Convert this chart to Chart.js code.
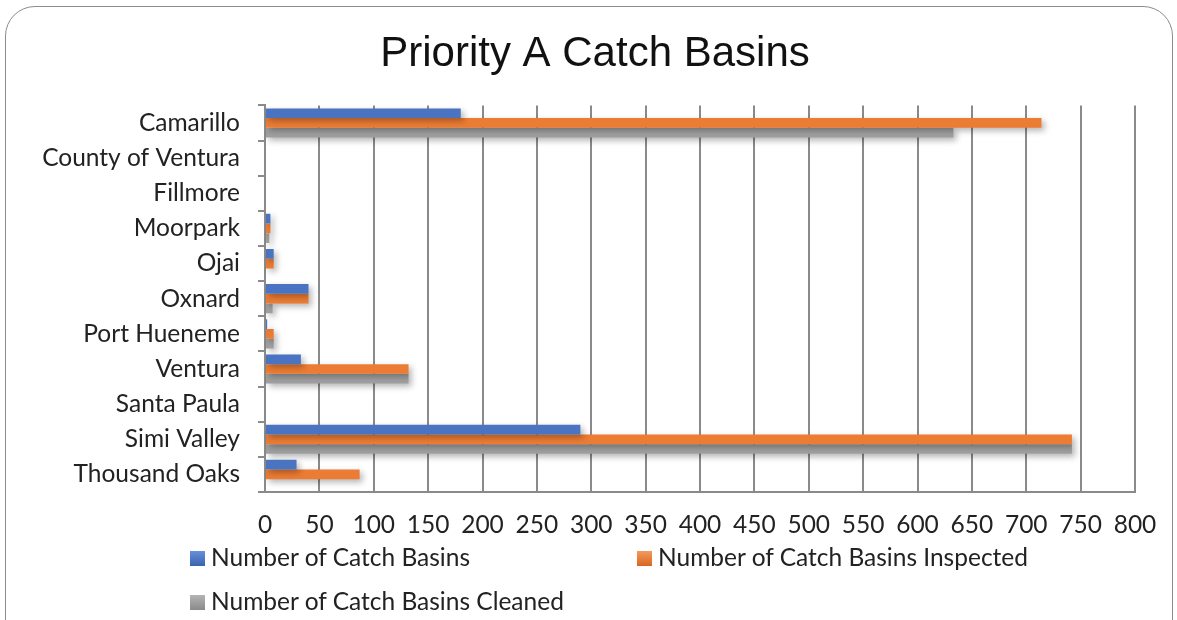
<!DOCTYPE html>
<html>
<head>
<meta charset="utf-8">
<script src="https://cdn.jsdelivr.net/npm/chart.js@4.4.1/dist/chart.umd.min.js"></script>
<style>
  html, body { margin: 0; padding: 0; background: #fff; overflow: hidden; }
  #wrap { position: relative; width: 1177px; height: 620px; }
  #frame {
    position: absolute; left: 5px; top: 6px; width: 1168px; height: 660px;
    border: 1.5px solid #8c8c8c; border-radius: 30px; box-sizing: border-box;
  }
  #chart { position: absolute; left: 0; top: 0; }
  .legend-item {
    position: absolute; font-family: Lato, "Open Sans", sans-serif; font-size: 24.5px;
    color: #222; white-space: nowrap; line-height: 28px;
  }
  .legend-item span.box {
    display: inline-block; width: 15px; height: 15px; margin-right: 6px; vertical-align: 0px;
  }
</style>
</head>
<body>
<div id="wrap">
  <div id="frame"></div>
  <canvas id="chart" width="1177" height="620"></canvas>
  <div id="legend"></div>
</div>
<script>
// chart data
const cities = ['Camarillo', 'County of Ventura', 'Fillmore', 'Moorpark', 'Ojai', 'Oxnard',
  'Port Hueneme', 'Ventura', 'Santa Paula', 'Simi Valley', 'Thousand Oaks'];
const basins    = [180, 0, 0, 5, 8, 40, 2, 33, 0, 290, 29];
const inspected = [714, 0, 0, 5, 8, 40, 8, 132, 0, 742, 87];
const cleaned   = [633, 0, 0, 4, 0, 7, 8, 132, 0, 742, 0];
const seriesNames = ['Number of Catch Basins', 'Number of Catch Basins Inspected', 'Number of Catch Basins Cleaned'];
const xTicks = [0, 50, 100, 150, 200, 250, 300, 350, 400, 450, 500, 550, 600, 650, 700, 750, 800];

const palette = [
  ['#6690da', '#4a74c2', '#3b62ad'],
  ['#f39a5f', '#ec7c33', '#d9661f'],
  ['#b4b4b4', '#a0a0a0', '#8a8a8a']
];

function barFill(idx) {
  return (ctx) => {
    const el = ctx.element;
    const c = ctx.chart.ctx;
    if (!el || el.y === undefined || !el.height) return palette[idx][1];
    const h = el.height;
    const g = c.createLinearGradient(0, el.y - h / 2, 0, el.y + h / 2);
    g.addColorStop(0, palette[idx][0]);
    g.addColorStop(0.5, palette[idx][1]);
    g.addColorStop(1, palette[idx][2]);
    return g;
  };
}

// soft shadow like the office chart style
const barShadow = {
  id: 'barShadow',
  beforeDatasetsDraw(chart) {
    const c = chart.ctx;
    c.save();
    c.shadowColor = 'rgba(0,0,0,0.3)';
    c.shadowBlur = 6;
    c.shadowOffsetX = 3;
    c.shadowOffsetY = 3;
  },
  afterDatasetsDraw(chart) {
    chart.ctx.restore();
  }
};

const data = {
  labels: cities,
  datasets: [basins, inspected, cleaned].map((vals, i) => ({
    label: seriesNames[i],
    data: vals,
    backgroundColor: barFill(i),
    borderWidth: 0,
    categoryPercentage: 0.83,
    barPercentage: 1.0
  }))
};

const font = { family: 'Lato, "Open Sans", sans-serif', size: 24.5 };

new Chart(document.getElementById('chart'), {
  type: 'bar',
  data: data,
  plugins: [barShadow],
  options: {
    indexAxis: 'y',
    responsive: false,
    animation: false,
    layout: { padding: { left: 13, right: 0, top: 0, bottom: 78 } },
    plugins: {
      legend: { display: false },
      tooltip: { enabled: false },
      title: {
        display: true,
        text: 'Priority A Catch Basins',
        color: '#111',
        font: { family: '"Liberation Sans", Arial, sans-serif', size: 42, weight: 'normal' },
        padding: { top: 29, bottom: 26 }
      }
    },
    scales: {
      x: {
        min: 0, max: 800,
        afterBuildTicks: (s) => { s.ticks = xTicks.map(v => ({ value: v })); },
        afterFit: (s) => { s.height = 50; s.paddingLeft = 0; s.paddingRight = 42; },
        grid: { color: '#8a8a8a', lineWidth: 2, drawTicks: false },
        border: { display: true, color: '#8a8a8a', width: 2 },
        ticks: { color: '#222', font: font, padding: 18, maxRotation: 0, autoSkip: false }
      },
      y: {
        afterFit: (s) => { s.width = 252; },
        grid: { drawOnChartArea: false, drawTicks: true, tickLength: 7, color: '#8a8a8a', lineWidth: 2, offset: true },
        border: { display: true, color: '#8a8a8a', width: 2 },
        ticks: { color: '#222', font: font, padding: 18 }
      }
    }
  }
});

// legend laid out in two columns as in the original
const legendPos = [[190, 543], [637, 543], [190, 587]];
const legendEl = document.getElementById('legend');
seriesNames.forEach((name, i) => {
  const d = document.createElement('div');
  d.className = 'legend-item';
  d.style.left = legendPos[i][0] + 'px';
  d.style.top = legendPos[i][1] + 'px';
  const box = document.createElement('span');
  box.className = 'box';
  box.style.background = 'linear-gradient(to bottom,' + palette[i][0] + ',' + palette[i][2] + ')';
  d.appendChild(box);
  d.appendChild(document.createTextNode(name));
  legendEl.appendChild(d);
});
</script>
</body>
</html>
